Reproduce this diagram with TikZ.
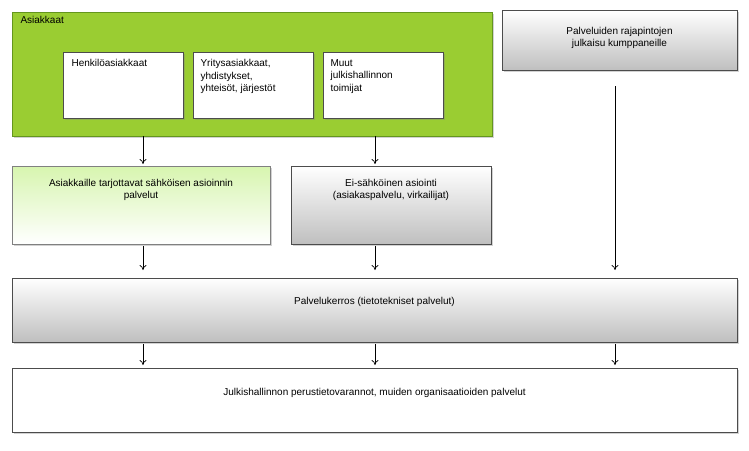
\documentclass[tikz,border=0pt]{standalone}
\usepackage{fontspec}
\setmainfont{Liberation Sans}
\usetikzlibrary{shadows,arrows.meta}
\begin{document}
\begin{tikzpicture}[x=1pt,y=-1pt,
  box/.style={draw=black!70,line width=0.6pt,drop shadow={opacity=0.35,shadow xshift=1.5pt,shadow yshift=-1.5pt}},
  gbox/.style={box,top color=white,bottom color=black!25},
  arr/.style={-{To[length=5pt,width=7pt]},line width=0.7pt},
  lbl/.style={font=\fontsize{10}{12.5}\selectfont,align=center}]
\useasboundingbox (0,0) rectangle (749,450);
\fill[white] (0,0) rectangle (749,450);
\draw[box,fill={rgb,255:red,154;green,205;blue,50},draw={rgb,255:red,100;green,150;blue,30}] (12,12) rectangle (492,136);
\node[lbl,anchor=north west] (asiak) at (17,13) {Asiakkaat};
\draw[box,fill=white] (63,52) rectangle (183,118);
\draw[box,fill=white] (193,52) rectangle (313,118);
\draw[box,fill=white] (323,52) rectangle (443,118);
\node[lbl,anchor=north west,align=left] (h) at (68,56) {Henkilöasiakkaat};
\node[lbl,anchor=north west,align=left] (y) at (197,56) {Yritysasiakkaat,\\yhdistykset,\\yhteisöt, järjestöt};
\node[lbl,anchor=north west,align=left] (m) at (327,56) {Muut\\julkishallinnon\\toimijat};
\draw[gbox] (502,10) rectangle (737,70);
\node[lbl] (rp) at (619.5,38) {Palveluiden rajapintojen\\julkaisu kumppaneille};
\draw[box,draw=black!50,top color={rgb,255:red,215;green,245;blue,175},bottom color=white] (12,166) rectangle (270,244);
\node[lbl] (sa) at (141,190) {Asiakkaille tarjottavat sähköisen asioinnin\\palvelut};
\draw[gbox] (291,166) rectangle (491,244);
\node[lbl] (ei) at (391,190) {Ei-sähköinen asiointi\\(asiakaspalvelu, virkailijat)};
\draw[gbox] (12,278) rectangle (737,342);
\node[lbl] (pk) at (374.5,302) {Palvelukerros (tietotekniset palvelut)};
\draw[box,fill=white] (12,368) rectangle (737,432);
\node[lbl] (jh) at (374.5,393) {Julkishallinnon perustietovarannot, muiden organisaatioiden palvelut};
\coordinate (a1) at (143,136); \coordinate (a2) at (143,164);
\coordinate (b1) at (375,136); \coordinate (b2) at (375,164);
\coordinate (c1) at (143,246); \coordinate (c2) at (143,270);
\coordinate (d1) at (375,246); \coordinate (d2) at (375,270);
\coordinate (e1) at (615,86); \coordinate (e2) at (615,270);
\coordinate (f1) at (143,344); \coordinate (f2) at (143,365);
\coordinate (g1) at (375,344); \coordinate (g2) at (375,365);
\coordinate (k1) at (615,344); \coordinate (k2) at (615,365);
\foreach \s/\t in {a1/a2,b1/b2,c1/c2,d1/d2,e1/e2,f1/f2,g1/g2,k1/k2} \draw[arr] (\s) -- (\t);
\end{tikzpicture}
\end{document}
